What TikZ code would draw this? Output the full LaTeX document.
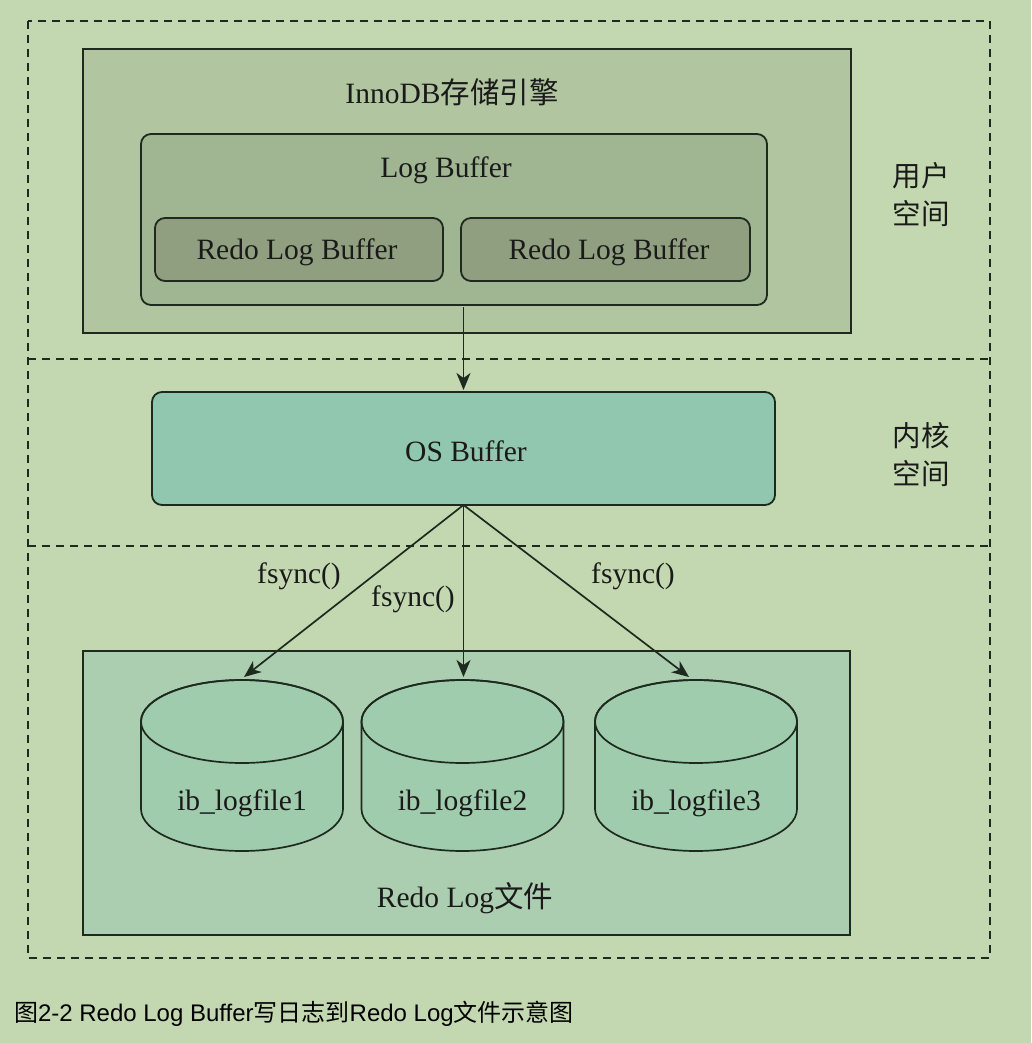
\documentclass[tikz,border=0pt]{standalone}
\usepackage{fontspec}
\setmainfont{Liberation Serif}
\newfontfamily\cjk{Noto Sans CJK SC}
\newfontfamily\capfont{Liberation Sans}
\usetikzlibrary{arrows.meta}
\definecolor{bgc}{HTML}{C3D8B1}
\definecolor{innoc}{HTML}{B0C5A0}
\definecolor{logc}{HTML}{A0B592}
\definecolor{redoc}{HTML}{909F80}
\definecolor{osc}{HTML}{90C7AE}
\definecolor{filec}{HTML}{ABCDB0}
\definecolor{cylc}{HTML}{A0CCAE}
\definecolor{linec}{HTML}{1E2A1E}
\definecolor{txtc}{HTML}{1A1A1A}
\begin{document}
\begin{tikzpicture}[x=1pt,y=-1pt,
  box/.style={draw=linec, line width=1.8pt, inner sep=0pt, outer sep=0pt},
  rbox/.style={box, rounded corners=10pt},
  lbl/.style={inner sep=0pt, outer sep=0pt, text=txtc, font=\fontsize{29.5}{35}\selectfont, anchor=base},
  dashline/.style={draw=linec, line width=1.6pt, dash pattern=on 8pt off 6pt},
  arr/.style={draw=linec, line width=1.7pt, -{Stealth[length=17pt,width=14pt,inset=5pt]}},
  cylshape/.style={fill=cylc, draw=linec, line width=1.7pt}
]
\useasboundingbox (0,0) rectangle (1031,1043);
\fill[bgc] (0,0) rectangle (1031,1043);

% dashed regions
\draw[dashline] (28,21) rectangle (990,958);
\draw[dashline] (28,359) -- (990,359);
\draw[dashline] (28,546) -- (990,546);

% user space
\node[box, fill=innoc, minimum width=768pt, minimum height=284pt] (inno) at (467,191) {};
\node[lbl] (innolbl) at (452,104) {InnoDB{\cjk 存储引擎}};
\node[rbox, fill=logc, minimum width=626pt, minimum height=171pt] (logbuf) at (454,219.5) {};
\node[lbl] (logbuflbl) at (446,178) {Log Buffer};
\node[rbox, fill=redoc, minimum width=288pt, minimum height=63pt] (rlb1) at (299,249.5) {};
\node[lbl] (rlb1lbl) at (297,259) {Redo Log Buffer};
\node[rbox, fill=redoc, minimum width=289pt, minimum height=63pt] (rlb2) at (605.5,249.5) {};
\node[lbl] (rlb2lbl) at (609,259) {Redo Log Buffer};
\node[lbl, font=\cjk\fontsize{28.5}{35}\selectfont] (user1) at (921,186) {用户};
\node[lbl, font=\cjk\fontsize{28.5}{35}\selectfont] (user2) at (921,224) {空间};

% kernel space
\node[rbox, fill=osc, minimum width=623pt, minimum height=113pt] (osbuf) at (463.5,448.5) {};
\node[lbl] (osbuflbl) at (466,461) {OS Buffer};
\node[lbl, font=\cjk\fontsize{28.5}{35}\selectfont] (kern1) at (921,446) {内核};
\node[lbl, font=\cjk\fontsize{28.5}{35}\selectfont] (kern2) at (921,484) {空间};

\draw[arr, shorten <=2pt, shorten >=2pt] (logbuf.south -| osbuf.north) -- (osbuf.north);

% files
\node[box, fill=filec, minimum width=767pt, minimum height=284pt] (files) at (466.5,793) {};
\node[lbl] (fileslbl) at (465,907) {Redo Log{\cjk 文件}};

\foreach \i/\cx in {1/242,2/462.5,3/696}{
  \path[cylshape] (\cx-101,721.5) -- (\cx-101,809)
     arc[start angle=180, end angle=0, x radius=101, y radius=42]
     -- (\cx+101,721.5)
     arc[start angle=0, end angle=-180, x radius=101, y radius=41.5] -- cycle;
  \draw[linec, line width=1.7pt] (\cx,721.5) ellipse[x radius=101, y radius=41.5];
  \node[lbl] (cyl\i lbl) at (\cx,810) {ib\_logfile\i};
}
\coordinate (t1) at (244,677);
\coordinate (t2) at (463.5,677);
\coordinate (t3) at (689,677);

\draw[arr] (osbuf.south) -- (t1);
\draw[arr] (osbuf.south) -- (t2);
\draw[arr] (osbuf.south) -- (t3);
\node[lbl] (fs1) at (299,583) {fsync()};
\node[lbl] (fs2) at (413,606) {fsync()};
\node[lbl] (fs3) at (633,583) {fsync()};

% caption
\node[inner sep=0pt, outer sep=0pt, anchor=base west, text=black, font=\capfont\fontsize{24}{28}\selectfont] (cap) at (14,1021)
  {{\cjk 图}2-2 Redo Log Buffer{\cjk 写日志到}Redo Log{\cjk 文件示意图}};
\end{tikzpicture}
\end{document}
